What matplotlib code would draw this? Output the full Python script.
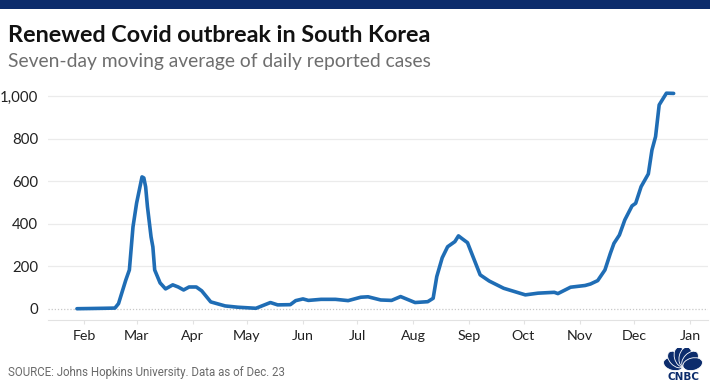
import math
import matplotlib
matplotlib.use("Agg")
import matplotlib.pyplot as plt
import matplotlib.dates as mdates
from matplotlib.patches import Ellipse, Rectangle
import pandas as pd

# seven-day moving average of daily cases
dates = ["2020-01-28", "2020-02-05", "2020-02-12", "2020-02-18", "2020-02-20",
         "2020-02-24", "2020-02-26", "2020-02-28", "2020-03-01", "2020-03-04",
         "2020-03-05", "2020-03-06", "2020-03-07", "2020-03-09", "2020-03-10",
         "2020-03-11", "2020-03-14", "2020-03-15", "2020-03-17", "2020-03-21",
         "2020-03-24", "2020-03-27", "2020-03-30", "2020-04-03", "2020-04-06",
         "2020-04-11", "2020-04-19", "2020-04-26", "2020-05-06", "2020-05-14",
         "2020-05-18", "2020-05-25", "2020-05-28", "2020-06-01", "2020-06-04",
         "2020-06-11", "2020-06-19", "2020-06-26", "2020-07-03", "2020-07-07",
         "2020-07-14", "2020-07-20", "2020-07-25", "2020-08-02", "2020-08-09",
         "2020-08-12", "2020-08-14", "2020-08-17", "2020-08-20", "2020-08-24",
         "2020-08-26", "2020-08-28", "2020-08-31", "2020-09-03", "2020-09-07",
         "2020-09-12", "2020-09-20", "2020-10-02", "2020-10-09", "2020-10-18",
         "2020-10-20", "2020-10-27", "2020-11-04", "2020-11-07", "2020-11-11",
         "2020-11-15", "2020-11-18", "2020-11-20", "2020-11-23", "2020-11-26",
         "2020-11-30", "2020-12-02", "2020-12-05", "2020-12-09", "2020-12-11",
         "2020-12-13", "2020-12-15", "2020-12-19", "2020-12-23"]
cases = [1, 2, 3, 4, 25,
         135, 183, 385, 497, 620,
         615, 573, 480, 338, 291,
         183, 122, 113, 94, 113,
         103, 89, 103, 103, 85,
         33, 14, 8, 3, 30,
         19, 20, 39, 47, 40,
         45, 45, 39, 55, 57,
         42, 40, 58, 30, 34,
         50, 152, 240, 292, 316,
         343, 330, 311, 246, 160,
         131, 97, 66, 74, 78,
         72, 102, 110, 117, 133,
         183, 261, 308, 347, 418,
         484, 496, 574, 634, 746,
         809, 958, 1013, 1012]

y_ticks = [0, 200, 400, 600, 800, 1000]

title = "Renewed Covid outbreak in South Korea"
subtitle = "Seven-day moving average of daily reported cases"
source = "SOURCE: Johns Hopkins University. Data as of Dec. 23"

navy = "#0c2c6c"
blue = "#1f6db5"

x = pd.to_datetime(dates)

fig = plt.figure(figsize=(7.1, 3.84), dpi=100)
fig.patches.append(Rectangle((0, 1 - 9 / 384), 1, 9 / 384, transform=fig.transFigure,
                             facecolor=navy, edgecolor="none"))

ax = fig.add_axes([48 / 710, 64 / 384, 660 / 710, 230 / 384])
ax.plot(x, cases, color=blue, lw=2.6, solid_capstyle="round", zorder=3)

ax.set_ylim(-52, 1028)
ax.set_xlim(pd.Timestamp("2020-01-12"), pd.Timestamp("2021-01-11"))
ax.set_yticks(y_ticks)
ax.set_yticklabels([f"{v:,}" for v in y_ticks])
ax.xaxis.set_major_locator(mdates.MonthLocator())
ax.xaxis.set_major_formatter(mdates.DateFormatter("%b"))

for v in y_ticks[1:]:
    ax.axhline(v, color="#ebebeb", lw=0.9, zorder=1)
ax.axhline(0, color="#c8c8c8", lw=0.9, ls=(0, (1, 1.5)), zorder=1)

for s in ["top", "right", "left"]:
    ax.spines[s].set_visible(False)
ax.spines["bottom"].set_color("#e2e2e2")
ax.tick_params(axis="y", length=0, pad=7, labelsize=10.8, labelcolor="#222222")
ax.tick_params(axis="x", length=3, color="#e2e2e2", pad=4, labelsize=10.3, labelcolor="#222222")
for lab in ax.get_xticklabels() + ax.get_yticklabels():
    lab.set_fontfamily("Lato")

fig.text(8 / 710, 1 - 42 / 384, title, fontsize=16.8, fontweight="bold",
         family="Lato", color="#111111")
fig.text(8 / 710, 1 - 67 / 384, subtitle, fontsize=13.9, family="Lato", color="#6e6e6e")
fig.text(8 / 710, 1 - 376 / 384, source, fontsize=8.3, family="Roboto", color="#6a6a6a")

# rough CNBC peacock
lax = fig.add_axes([658 / 710, 3 / 384, 50 / 710, 33 / 384])
lax.set_xlim(-1.25, 1.25)
lax.set_ylim(-0.62, 1.03)
lax.axis("off")
for ang in [166, 135, 104, 76, 45, 14]:
    r = 0.5
    cx = r * math.cos(math.radians(ang))
    cy = 0.1 + r * math.sin(math.radians(ang))
    lax.add_patch(Ellipse((cx, cy), 1.0, 0.62, angle=ang, facecolor=navy,
                          edgecolor="white", lw=0.6))
lax.text(0, -0.4, "CNBC", ha="center", va="center", fontsize=7.5,
         fontweight="bold", family="DejaVu Sans", color=navy)

fig.savefig("out.png", dpi=100, facecolor="white")
